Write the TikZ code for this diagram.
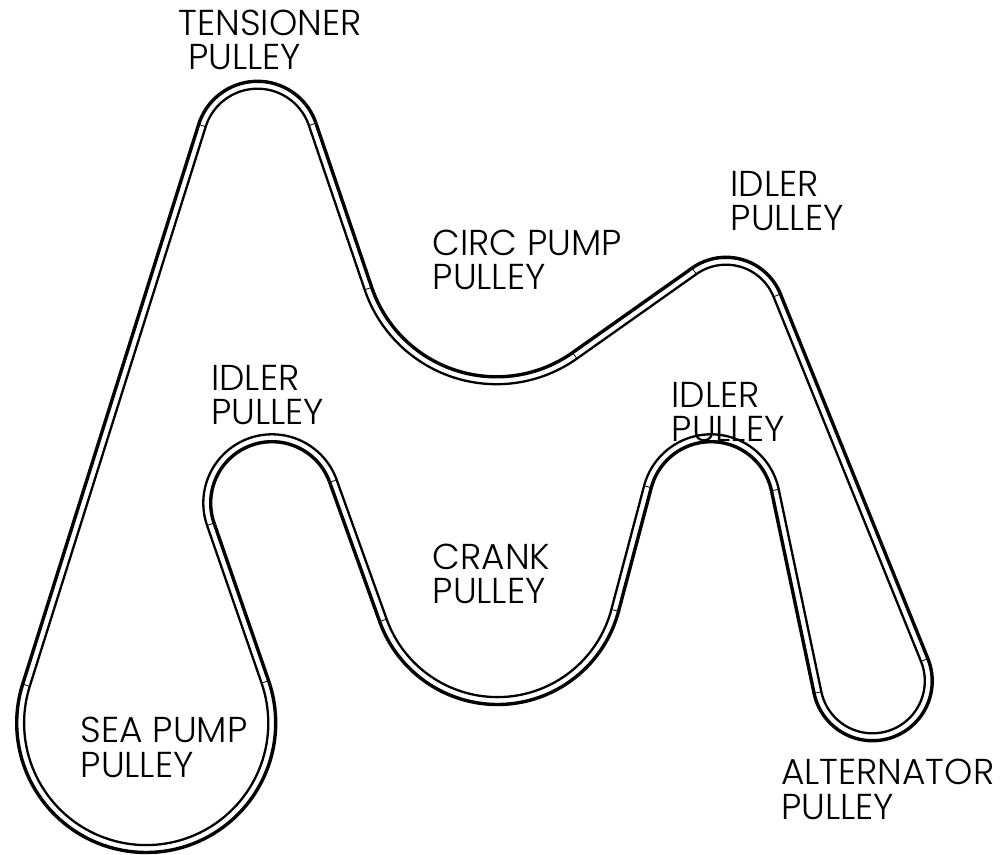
\documentclass[tikz,border=0pt]{standalone}
\usepackage{fontspec}
\setmainfont{Poppins Light}
\newcommand\pul[4]{\expandafter\def\csname x#1\endcsname{#2}\expandafter\def\csname y#1\endcsname{#3}\expandafter\def\csname r#1\endcsname{#4}}
\newcommand\vv[2]{\csname #1#2\endcsname}
% tangent normal angle from pulley #1 to pulley #2 (y-down coordinates)
\newcommand\tang[2]{%
  \pgfmathsetmacro\tmpdx{\vv{x}{#2}-(\vv{x}{#1})}%
  \pgfmathsetmacro\tmpdy{\vv{y}{#2}-(\vv{y}{#1})}%
  \pgfmathsetmacro\tmpth{atan2(\tmpdy,\tmpdx)-acos(((\vv{r}{#1})-(\vv{r}{#2}))/veclen(\tmpdx,\tmpdy))}%
  \expandafter\let\csname out#1\endcsname\tmpth
  \expandafter\let\csname in#2\endcsname\tmpth}
% final arc limits of pulley #1
\newcommand\lims[1]{%
  \pgfmathsetmacro\tmpa{\vv{in}{#1}}%
  \pgfmathsetmacro\tmpb{\vv{out}{#1}}%
  \pgfmathsetmacro\tmpe{(\vv{r}{#1})>0 ? \tmpa+mod(\tmpb-\tmpa+720,360) : \tmpa-mod(\tmpa-\tmpb+720,360)}%
  \expandafter\let\csname a#1\endcsname\tmpa
  \expandafter\let\csname e#1\endcsname\tmpe}
\newcommand\seg[2]{plot[domain=\vv{a}{#1}:\vv{e}{#1},samples=90] ({\vv{x}{#1}+(\vv{r}{#1}+#2)*cos(\x)},{\vv{y}{#1}+(\vv{r}{#1}+#2)*sin(\x)})}
\newcommand\nseg[2]{-- plot[domain=\vv{a}{#1}:\vv{e}{#1},samples=90] ({\vv{x}{#1}+(\vv{r}{#1}+#2)*cos(\x)},{\vv{y}{#1}+(\vv{r}{#1}+#2)*sin(\x)})}
\newcommand\tick[1]{%
  \draw[tickline] ({\vv{x}{#1}+(\vv{r}{#1}+\bd)*cos(\vv{a}{#1})},{\vv{y}{#1}+(\vv{r}{#1}+\bd)*sin(\vv{a}{#1})}) -- ({\vv{x}{#1}+(\vv{r}{#1}-\bd)*cos(\vv{a}{#1})},{\vv{y}{#1}+(\vv{r}{#1}-\bd)*sin(\vv{a}{#1})});%
  \draw[tickline] ({\vv{x}{#1}+(\vv{r}{#1}+\bd)*cos(\vv{e}{#1})},{\vv{y}{#1}+(\vv{r}{#1}+\bd)*sin(\vv{e}{#1})}) -- ({\vv{x}{#1}+(\vv{r}{#1}-\bd)*cos(\vv{e}{#1})},{\vv{y}{#1}+(\vv{r}{#1}-\bd)*sin(\vv{e}{#1})});}
\def\bd{3.7}
\tikzset{
  beltA/.style={draw=black,line width=3.4pt,line join=round},
  beltB/.style={draw=black,line width=2.3pt,line join=round},
  tickline/.style={draw=black,line width=0.8pt},
  lbl/.style={inner sep=0pt,anchor=north west,align=left,font=\fontsize{36}{34.5}\selectfont,text=black}
}
\begin{document}
\begin{tikzpicture}[x=1pt,y=-1pt]
\useasboundingbox (0,0) rectangle (1001,854);
\pul{T}{257.5}{143}{58}
\pul{C}{496.5}{245}{-135.5}
\pul{I}{726}{316}{55}
\pul{A}{872.5}{681}{56}
\pul{J}{711}{503.5}{-65.5}
\pul{K}{497.5}{579.3}{121.5}
\pul{L}{272}{503}{-65}
\pul{S}{146.2}{723}{125.8}
\tang{T}{C}\tang{C}{I}\tang{I}{A}\tang{A}{J}\tang{J}{K}\tang{K}{L}\tang{L}{S}\tang{S}{T}
\lims{T}\lims{C}\lims{I}\lims{A}\lims{J}\lims{K}\lims{L}\lims{S}
\path[beltA] \seg{T}{\bd} \nseg{C}{\bd} \nseg{I}{\bd} \nseg{A}{\bd} \nseg{J}{\bd} \nseg{K}{\bd} \nseg{L}{\bd} \nseg{S}{\bd} -- cycle;
\path[beltB] \seg{T}{-\bd} \nseg{C}{-\bd} \nseg{I}{-\bd} \nseg{A}{-\bd} \nseg{J}{-\bd} \nseg{K}{-\bd} \nseg{L}{-\bd} \nseg{S}{-\bd} -- cycle;
\tick{T}\tick{C}\tick{I}\tick{A}\tick{J}\tick{K}\tick{L}\tick{S}
\node[lbl] (tens1) at (178.5,10) {TENSIONER};
\node[lbl] (tens2) at (188,44.3) {PULLEY};
\node[lbl] (circ) at (432.5,229.5) {CIRC PUMP\\PULLEY};
\node[lbl] (idl1) at (730.5,171) {IDLER\\PULLEY};
\node[lbl] (idl2) at (671.5,381.7) {IDLER\\PULLEY};
\node[lbl] (idl3) at (211,365) {IDLER\\PULLEY};
\node[lbl] (crank) at (432.5,543.5) {CRANK\\PULLEY};
\node[lbl] (alt) at (781,759.3) {ALTERNATOR\\PULLEY};
\node[lbl] (sea) at (80.5,717) {SEA PUMP\\PULLEY};
\end{tikzpicture}
\end{document}
